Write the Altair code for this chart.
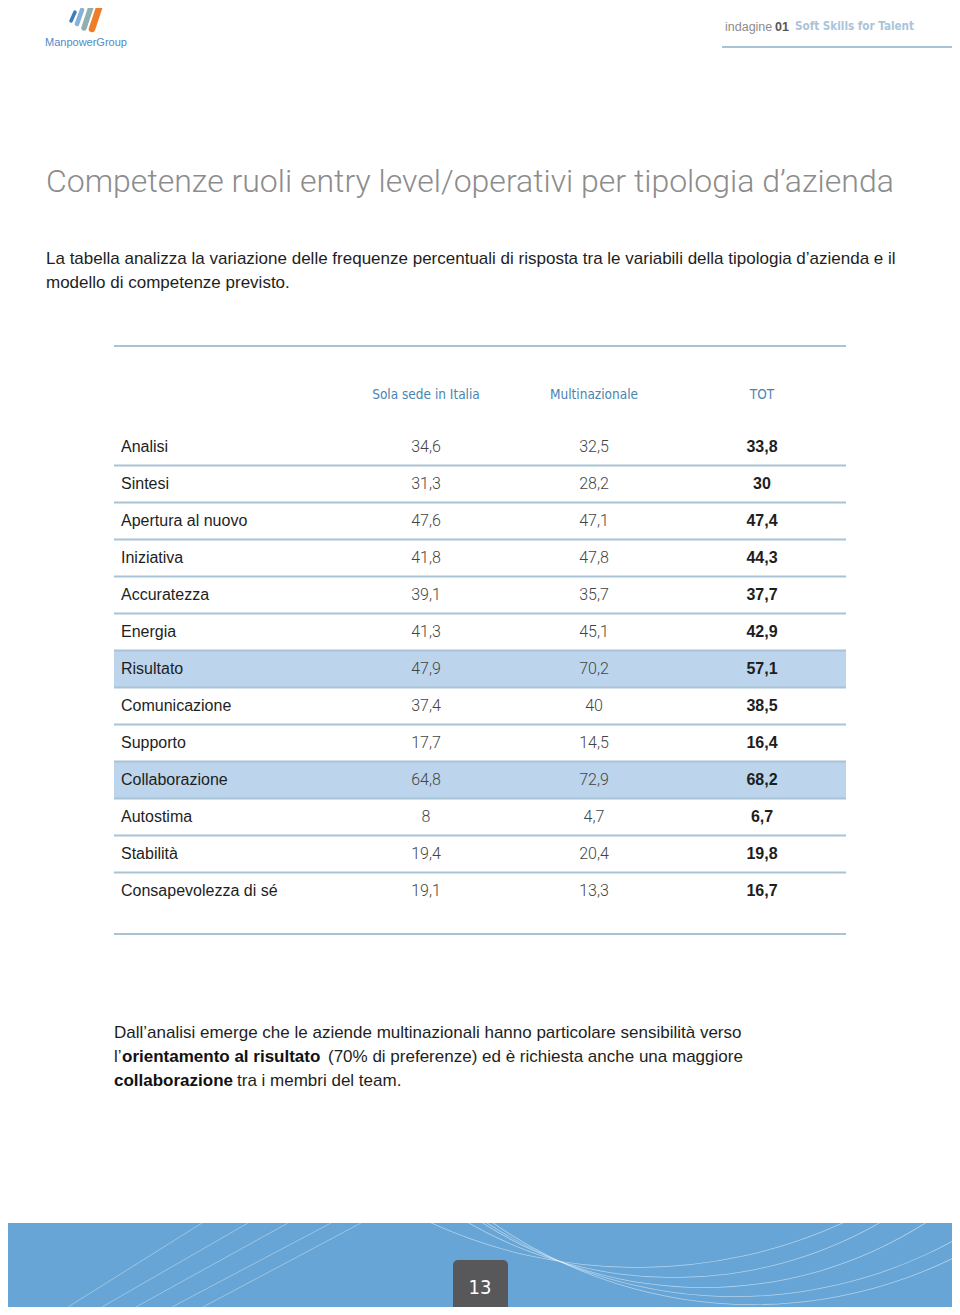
import math
import altair as alt
import pandas as pd

# ---------------- data ----------------
competenze = ["Analisi", "Sintesi", "Apertura al nuovo", "Iniziativa", "Accuratezza",
              "Energia", "Risultato", "Comunicazione", "Supporto", "Collaborazione",
              "Autostima", "Stabilità", "Consapevolezza di sé"]
sola_sede = [34.6, 31.3, 47.6, 41.8, 39.1, 41.3, 47.9, 37.4, 17.7, 64.8, 8, 19.4, 19.1]
multinazionale = [32.5, 28.2, 47.1, 47.8, 35.7, 45.1, 70.2, 40, 14.5, 72.9, 4.7, 20.4, 13.3]
tot = [33.8, 30, 47.4, 44.3, 37.7, 42.9, 57.1, 38.5, 16.4, 68.2, 6.7, 19.8, 16.7]
colonne = ["Sola sede in Italia", "Multinazionale", "TOT"]
evidenziate = ["Risultato", "Collaborazione"]

titolo = "Competenze ruoli entry level/operativi per tipologia d’azienda"
sottotitolo = ["La tabella analizza la variazione delle frequenze percentuali di risposta tra le variabili della tipologia d’azienda e il",
               "modello di competenze previsto."]
par_riga1 = "Dall’analisi emerge che le aziende multinazionali hanno particolare sensibilità verso"
par_riga2 = ["l’", "orientamento al risultato", "(70% di preferenze) ed è richiesta anche una maggiore"]
par_riga3 = ["collaborazione", "tra i membri del team."]
testata = ["indagine", "01", "Soft Skills for Talent"]
marchio = "ManpowerGroup"
pagina = "13"

# ---------------- styles ----------------
FONT = "Liberation Sans, Arial, Helvetica, sans-serif"
LIGHT = "Roboto, Liberation Sans, sans-serif"
NARROW = "Liberation Sans Narrow, DejaVu Sans Condensed, sans-serif"
BLU = "#4a84b0"
LINEA = "#a9c3d6"
W, H = 944, 1299

uno = pd.DataFrame({"k": [0]})

def testo(t, x, y, size, color, font=FONT, weight="normal", align="left", baseline="middle"):
    return alt.Chart(uno).mark_text(text=t, align=align, baseline=baseline, font=font,
                                    fontSize=size, fontWeight=weight, color=color).encode(
        x=alt.value(x), y=alt.value(y))

def regola(x1, y1, x2, y2, color, sw, cap="butt", opacity=1.0):
    return alt.Chart(uno).mark_rule(color=color, strokeWidth=sw, strokeCap=cap, opacity=opacity).encode(
        x=alt.value(x1), y=alt.value(y1), x2=alt.value(x2), y2=alt.value(y2))

def rettangolo(x1, y1, x2, y2, color, radius=0):
    return alt.Chart(uno).mark_rect(color=color, cornerRadius=radius).encode(
        x=alt.value(x1), x2=alt.value(x2), y=alt.value(y1), y2=alt.value(y2))

# ---------------- table frames ----------------
righe = []
for i, c in enumerate(competenze):
    for j, serie in enumerate([sola_sede, multinazionale, tot]):
        v = serie[i]
        righe.append({"riga": i, "col": j, "competenza": c,
                      "etichetta": f"{v:g}".replace(".", ",")})
valori = pd.DataFrame(righe)
etichette = pd.DataFrame({"riga": list(range(len(competenze))), "competenza": competenze})
separatori = pd.DataFrame({"sep": [i + 0.5 for i in range(len(competenze) - 1)]})
evid = pd.DataFrame({"a": [competenze.index(e) - 0.5 for e in evidenziate],
                     "b": [competenze.index(e) + 0.5 for e in evidenziate]})
intest = pd.DataFrame({"col": list(range(len(colonne))), "nome": colonne})

yscale = alt.Scale(domain=[0, len(competenze) - 1], range=[439, 883], nice=False, zero=False)
xscale = alt.Scale(domain=[0, len(colonne) - 1], range=[418, 754], nice=False, zero=False)

layers = []

# header
layers.append(testo(marchio, 37, 35, 11, "#4f8ac6"))
layers.append(regola(63, 13, 67, 4, "#3e7cc0", 3.5, "round"))
layers.append(regola(69, 16, 74, 2, "#84b2d9", 4.5, "round"))
layers.append(regola(76, 20, 83, -1, "#8fb0ae", 5.5, "round"))
layers.append(regola(84, 21, 92, -3, "#ee7d2a", 6.5, "round"))
layers.append(testo(testata[0], 717, 19, 12.5, "#8c8c8c", FONT))
layers.append(testo(testata[1], 767, 19, 12.5, "#555555", FONT, "bold"))
layers.append(testo(testata[2], 787, 19, 11.6, "#aac4da", NARROW, "bold"))
layers.append(regola(714, 39, 944, 39, LINEA, 2))

# title and intro
layers.append(testo(titolo, 38, 174, 32, "#8c8c8c", LIGHT, 300))
layers.append(testo(sottotitolo[0], 38, 251, 17, "#1e1e1e"))
layers.append(testo(sottotitolo[1], 38, 275, 17, "#1e1e1e"))

# table
layers.append(regola(106, 338, 838, 338, LINEA, 2))
layers.append(regola(106, 926, 838, 926, LINEA, 2))
layers.append(alt.Chart(evid).mark_rect(color="#bcd5ec").encode(
    x=alt.value(106), x2=alt.value(838),
    y=alt.Y("a:Q", scale=yscale, axis=None), y2="b:Q"))
layers.append(alt.Chart(separatori).mark_rule(color=LINEA, strokeWidth=2).encode(
    x=alt.value(106), x2=alt.value(838),
    y=alt.Y("sep:Q", scale=yscale, axis=None)))
layers.append(alt.Chart(intest).mark_text(font=NARROW, fontSize=13.5, color=BLU, baseline="middle").encode(
    x=alt.X("col:Q", scale=xscale, axis=None), y=alt.value(387), text="nome:N"))
layers.append(alt.Chart(etichette).mark_text(font=FONT, fontSize=16, color="#1e1e1e",
                                             align="left", baseline="middle").encode(
    x=alt.value(113), y=alt.Y("riga:Q", scale=yscale, axis=None), text="competenza:N"))
layers.append(alt.Chart(valori).transform_filter("datum.col < 2").mark_text(
    font=LIGHT, fontWeight=300, fontSize=16, color="#444444", baseline="middle").encode(
    x=alt.X("col:Q", scale=xscale, axis=None), y=alt.Y("riga:Q", scale=yscale, axis=None),
    text="etichetta:N"))
layers.append(alt.Chart(valori).transform_filter("datum.col == 2").mark_text(
    font=FONT, fontWeight="bold", fontSize=16, color="#1e1e1e", baseline="middle").encode(
    x=alt.X("col:Q", scale=xscale, axis=None), y=alt.Y("riga:Q", scale=yscale, axis=None),
    text="etichetta:N"))

# closing paragraph
layers.append(testo(par_riga1, 106, 1025, 17, "#1e1e1e"))
layers.append(testo(par_riga2[0], 106, 1049, 17, "#1e1e1e"))
layers.append(testo(par_riga2[1], 114, 1049, 17, "#111111", FONT, "bold"))
layers.append(testo(par_riga2[2], 320, 1049, 17, "#1e1e1e"))
layers.append(testo(par_riga3[0], 106, 1073, 17, "#111111", FONT, "bold"))
layers.append(testo(par_riga3[1], 229, 1073, 17, "#1e1e1e"))

# footer band
layers.append(rettangolo(0, 1215, W, H + 5, "#66a5d6"))
for xt, xb in [(194, 60), (240, 94), (280, 128), (323, 164), (353, 195)]:
    layers.append(regola(xt, 1215, xb, H, "white", 0.8, opacity=0.45))
for cx, cy, r in [(629, 763, 497), (666, 856, 414), (696, 868, 412), (727, 834, 455), (745, 842, 455)]:
    a = math.acos(min(1.0, (1215 - cy) / r))
    layers.append(alt.Chart(uno).mark_arc(radius=r, radius2=r - 0.8, theta=math.pi - a,
                                          theta2=math.pi + a, color="white", opacity=0.5).encode(
        x=alt.value(cx), y=alt.value(cy)))
layers.append(rettangolo(445, 1252, 500, H + 10, "#58585a", 5))
layers.append(testo(pagina, 472, 1280, 20, "white", NARROW, "normal", "center"))

chart = alt.layer(*layers).properties(
    width=W, height=H, autosize="none", padding=0, background="white"
).configure_view(stroke=None, strokeWidth=0)

chart.save("out.html", embed_options={"renderer": "svg", "actions": False})
